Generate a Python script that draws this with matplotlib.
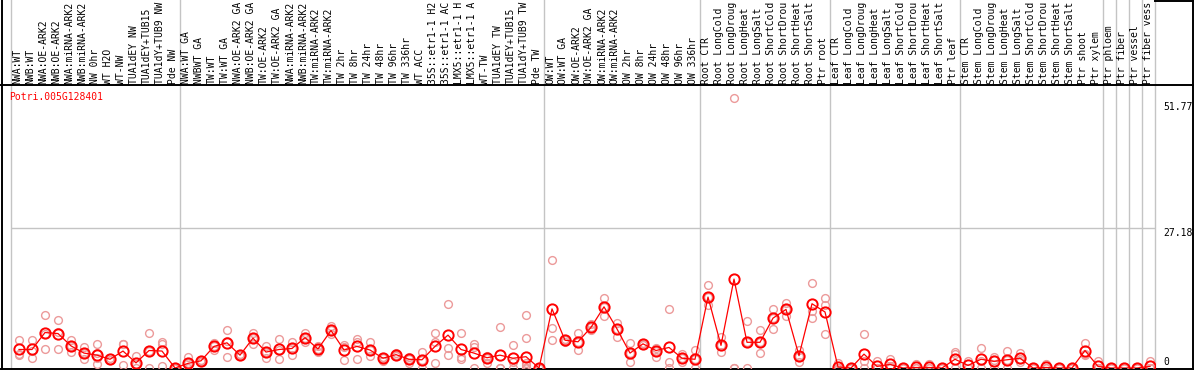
import matplotlib
matplotlib.use('Agg')
import matplotlib.pyplot as plt

plt.rcParams['font.family'] = ['DejaVu Sans Mono']

W, H = 1194, 370
DPI = 100

GENE = 'Potri.005G128401'

labels = [
    'NWA:WT', 'NWB:WT', 'NWA:OE-ARK2', 'NWB:OE-ARK2', 'NWA:miRNA-ARK2', 'NWB:miRNA-ARK2',
    'NW 0hr', 'WT H2O', 'WT-NW', 'TUA1dEY NW', 'TUA1dEY+TUB15 NW', 'TUA1dY+TUB9 NW', 'Pde NW',
    'NWA:WT GA', 'NWBWT GA', 'TW:WT', 'TW:WT GA', 'NWA:OE-ARK2 GA', 'NWB:OE-ARK2 GA',
    'TW:OE-ARK2', 'TW:OE-ARK2 GA', 'NWA:miRNA-ARK2', 'NWB:miRNA-ARK2', 'TW:miRNA-ARK2',
    'TW:miRNA-ARK2', 'TW 2hr', 'TW 8hr', 'TW 24hr', 'TW 48hr', 'TW 96hr', 'TW 336hr',
    'WT ACC', '35S::etr1-1 H2O', '35S::etr1-1 ACC', 'LMX5::etr1-1 H2O', 'LMX5::etr1-1 ACC',
    'WT-TW', 'TUA1dEY TW', 'TUA1dEY+TUB15 TW', 'TUA1dY+TUB9 TW', 'Pde TW',
    'OW:WT', 'OW:WT GA', 'OW:OE-ARK2', 'OW:OE-ARK2 GA', 'OW:miRNA-ARK2', 'OW:miRNA-ARK2',
    'OW 2hr', 'OW 8hr', 'OW 24hr', 'OW 48hr', 'OW 96hr', 'OW 336hr',
    'Root CTR', 'Root LongCold', 'Root LongDrought', 'Root LongHeat', 'Root LongSalt',
    'Root ShortCold', 'Root ShortDrought', 'Root ShortHeat', 'Root ShortSalt', 'Ptr root',
    'Leaf CTR', 'Leaf LongCold', 'Leaf LongDrought', 'Leaf LongHeat', 'Leaf LongSalt',
    'Leaf ShortCold', 'Leaf ShortDrought', 'Leaf ShortHeat', 'Leaf ShortSalt', 'Ptr leaf',
    'Stem CTR', 'Stem LongCold', 'Stem LongDrought', 'Stem LongHeat', 'Stem LongSalt',
    'Stem ShortCold', 'Stem ShortDrought', 'Stem ShortHeat', 'Stem ShortSalt', 'Ptr shoot',
    'Ptr xylem', 'Ptr phloem', 'Ptr fiber', 'Ptr vessel', 'Ptr fiber vessel',
]
MAX_CHARS = 14  # the header only has room for this many characters

# group boundaries (column index where a grey separator sits)
groups = [0, 13, 41, 53, 63, 73, 84, 85, 86, 87, 88]

means = [
    3.6, 3.6, 6.9, 6.7, 4.3, 2.9, 2.5, 1.7, 3.3, 1.0, 3.4, 3.3, 0.0,
    0.9, 1.4, 4.2, 4.9, 2.5, 5.8, 3.1, 3.6, 3.8, 5.9, 3.7, 7.3, 3.5, 4.2, 3.5,
    1.9, 2.6, 1.7, 1.6, 4.2, 6.4, 3.6, 2.9, 2.0, 2.5, 1.9, 2.2, 0.0,
    11.5, 5.4, 5.1, 7.9, 11.9, 7.6, 2.9, 4.7, 3.4, 4.0, 1.9, 1.7,
    13.8, 4.4, 17.3, 5.0, 5.0, 9.7, 11.4, 2.4, 12.5, 10.9,
    0.2, 0.0, 2.7, 0.3, 0.7, 0.0, 0.1, 0.1, 0.0, 1.7,
    0.5, 1.7, 1.3, 1.6, 1.9, 0.0, 0.1, 0.0, 0.0, 3.4, 0.3,
    0.0, 0.0, 0.0, 0.3,
]

reps = [
    [5.4, 2.8, 2.6], [5.4, 3.4, 2.0], [10.4, 6.7, 3.6], [9.4, 7.1, 3.6], [5.4, 4.3, 3.1],
    [4.0, 2.9, 1.8], [4.7, 3.0, 1.9, 0.7], [2.0, 1.6, 1.5], [4.7, 4.7, 0.5], [2.3, 0.7, 0.0],
    [6.8, 3.4, 0.0], [5.0, 4.6, 0.3], [0.0, 0.0, 0.0],
    [2.1, 0.9, 0.0], [1.6, 1.4, 1.2], [4.9, 4.2, 3.5], [7.3, 5.2, 2.2], [2.7, 2.5, 2.3],
    [6.8, 5.9, 4.7], [4.3, 3.1, 1.9], [5.6, 3.5, 1.7], [5.0, 3.8, 2.6], [6.8, 5.9, 5.0],
    [4.2, 3.7, 3.2], [8.2, 7.3, 6.6], [4.4, 4.1, 1.6], [5.6, 5.0, 1.8], [5.0, 3.5, 2.4],
    [2.1, 1.9, 1.4], [2.9, 2.6, 2.3], [2.1, 1.7, 1.0], [3.2, 1.6, 0.0], [6.8, 5.0, 1.0],
    [12.5, 3.8, 2.5], [6.8, 2.2, 1.7], [4.6, 4.1, 0.0], [2.4, 2.0, 1.0], [7.9, 0.0, 0.0],
    [4.5, 1.2, 0.0], [10.4, 5.8, 1.0, 0.5, 0.0, 0.0, 0.0], [0.0, 0.0, 0.0],
    [21.0, 7.7, 5.4], [5.6, 5.4, 5.0], [6.8, 5.1, 3.5], [8.6, 7.9, 7.4], [13.6, 11.9, 10.2],
    [8.8, 7.6, 6.1], [4.9, 2.9, 1.1], [4.9, 4.7, 4.4], [3.9, 3.4, 2.1], [11.4, 1.1, 0.0],
    [2.7, 1.9, 1.2], [3.5, 1.7, 0.0],
    [16.1, 13.8, 12.3], [6.1, 4.4, 3.1], [52.5, 0.0, 0.0], [9.1, 5.0, 0.0], [7.4, 5.0, 2.9],
    [11.4, 9.7, 7.5], [12.7, 11.4, 10.2], [3.5, 2.4, 1.1], [16.5, 11.0, 9.7], [13.6, 12.2, 6.7],
    [0.9, 0.0, 0.0], [0.0, 0.0, 0.0], [6.6, 1.4, 0.0], [1.4, 0.0, 0.0], [1.8, 0.3, 0.0],
    [0.0, 0.0, 0.0], [0.8, 0.0, 0.0], [0.7, 0.0, 0.0], [0.0, 0.0, 0.0], [3.1, 2.7, 0.0],
    [1.3, 0.0, 0.0], [3.8, 1.3, 0.0], [2.2, 1.6, 0.0], [3.3, 1.5, 0.0], [2.9, 1.7, 1.1],
    [0.0, 0.0, 0.0], [0.7, 0.0, 0.0], [0.0, 0.0, 0.0], [0.0, 0.0, 0.0], [4.9, 2.8, 2.5],
    [1.3, 0.0, 0.0], [0.0, 0.0, 0.0], [0.0, 0.0, 0.0], [0.0, 0.0, 0.0], [1.4, 0.0, 0.0],
]

ytick_vals = [51.77, 27.18, 0]
ytick_text = ['51.77', '27.18', '0']

RED = '#ff0000'
PINK = '#ec9a9a'
GREY = '#c4c4c4'

# pixel layout
X0, COLW = 11, 13          # left of first column, column width
Y_TOP, Y_ZERO = 85, 368    # header line / zero line
PX_PER_UNIT = 5.14


def col_px(i):
    return X0 + COLW * i + 8


fig = plt.figure(figsize=(W / DPI, H / DPI), dpi=DPI, facecolor='white')

# ===== background axes in pixel coordinates =====
bg = fig.add_axes([0, 0, 1, 1])
bg.set_xlim(0, W)
bg.set_ylim(H, 0)
bg.axis('off')

for b in groups:
    bg.plot([X0 + COLW * b] * 2, [0, H], color=GREY, lw=1.0, zorder=1)

bg.plot([0, W], [Y_TOP, Y_TOP], color='black', lw=1.4, zorder=3)
bg.plot([0, W], [H - 1.5, H - 1.5], color='black', lw=1.4, zorder=3)
bg.plot([1.5, 1.5], [0, H], color='black', lw=1.4, zorder=3)
bg.plot([W - 1.5, W - 1.5], [0, H], color='black', lw=1.4, zorder=3)
bg.plot([X0 + COLW * groups[-1], W], [0.7, 0.7], color='black', lw=1.4, zorder=3)

for i, lab in enumerate(labels):
    bg.text(col_px(i) - 2, Y_TOP - 1.5, lab[:MAX_CHARS].rstrip(), rotation=90,
            ha='center', va='bottom', fontsize=7.0, color='black', zorder=4)

bg.text(9, 97, GENE, color=RED, fontsize=7.0, ha='left', va='center', zorder=4)

# ===== data axes =====
ax = fig.add_axes([X0 / W, (H - Y_ZERO) / H, COLW * len(labels) / W, (Y_ZERO - Y_TOP) / H])
ax.patch.set_alpha(0)
ax.set_xlim(-8 / COLW, len(labels) - 8 / COLW)
ax.set_ylim(0, (Y_ZERO - Y_TOP) / PX_PER_UNIT)
ax.axis('off')

ax.axhline(ytick_vals[1], color=GREY, lw=1.0, zorder=1)

# value labels sit just under their level, but stay inside the frame
for val, txt in zip(ytick_vals, ytick_text):
    ypx = min(Y_ZERO - val * PX_PER_UNIT + 5, Y_ZERO - 6)
    bg.text(1163, ypx, txt, fontsize=7.0, ha='left', va='center', zorder=4)

for i, r in enumerate(reps):
    ax.plot([i] * len(r), r, 'o', ms=5.6, mfc='none', mec=PINK, mew=1.0, zorder=2)

xs = list(range(len(means)))
ax.plot(xs, means, '-', color=RED, lw=0.9, zorder=3)
ax.plot(xs, means, 'o', ms=7.4, mfc='none', mec=RED, mew=1.4, zorder=4)

plt.savefig('out.png', dpi=DPI, facecolor='white')
plt.close()
